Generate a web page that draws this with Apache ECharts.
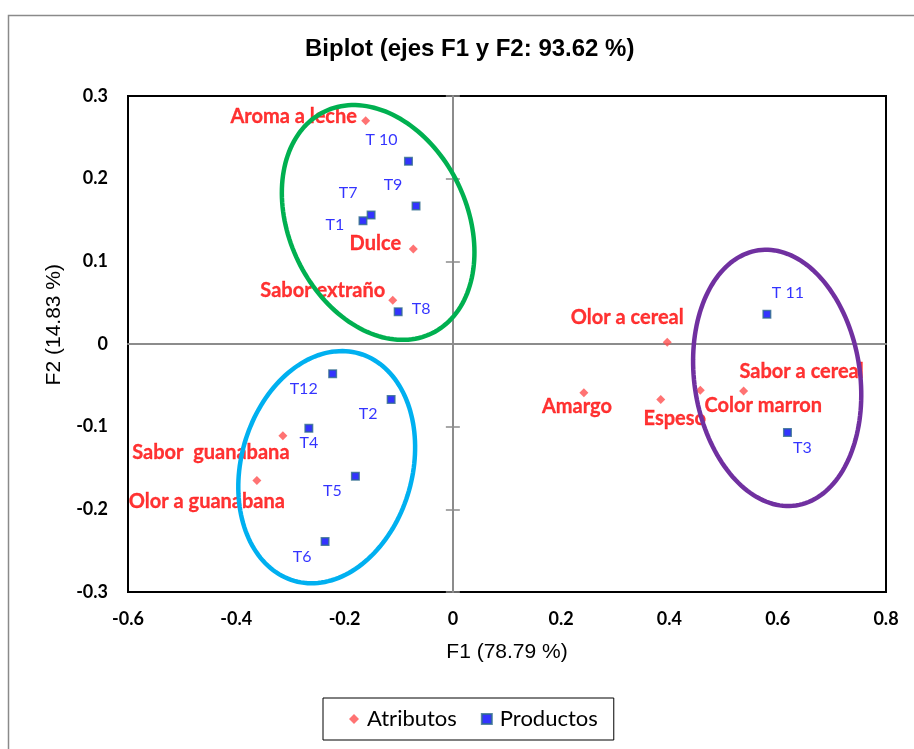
<!DOCTYPE html>
<html><head><meta charset="utf-8">
<script src="https://cdn.jsdelivr.net/npm/echarts@6/dist/echarts.min.js"></script>
<style>html,body{margin:0;padding:0;background:#fff}#c{width:914px;height:749px}</style>
</head><body><div id="c"></div>
<script>
// ---------- data ----------
const titleText = 'Biplot (ejes F1 y F2: 93.62 %)';
const xTitle = 'F1 (78.79 %)';
const yTitle = 'F2 (14.83 %)';
const xTicks = [-0.6, -0.4, -0.2, 0, 0.2, 0.4, 0.6, 0.8];
const yTicks = [-0.3, -0.2, -0.1, 0, 0.1, 0.2, 0.3];

const attrNames = ['Aroma a leche', 'Dulce', 'Sabor extraño', 'Olor a cereal', 'Amargo', 'Espeso', 'Color marron', 'Sabor a cereal', 'Sabor  guanabana', 'Olor a guanabana'];
const attrF1 = [-0.161, -0.073, -0.111, 0.396, 0.242, 0.384, 0.457, 0.537, -0.314, -0.362];
const attrF2 = [0.270, 0.115, 0.053, 0.002, -0.059, -0.067, -0.056, -0.057, -0.111, -0.165];

const prodNames = ['T 10', 'T9', 'T7', 'T1', 'T8', 'T 11', 'T3', 'T12', 'T2', 'T4', 'T5', 'T6'];
const prodF1 = [-0.082, -0.068, -0.151, -0.166, -0.101, 0.580, 0.618, -0.222, -0.114, -0.266, -0.180, -0.236];
const prodF2 = [0.221, 0.167, 0.156, 0.149, 0.039, 0.036, -0.107, -0.036, -0.067, -0.102, -0.160, -0.239];

// group ellipses: centre (F1, F2), half-extent along F1, half-extent along F2, tilt in degrees (+ = top leans left)
const groupCx = [-0.138, -0.233, 0.599];
const groupCy = [0.147, -0.149, -0.041];
const groupRx = [0.164, 0.158, 0.153];
const groupRy = [0.149, 0.143, 0.156];
const groupTilt = [25.9, -15.9, 8.4];

// ---------- styles ----------
const groupColors = ['#00B050', '#00B0F0', '#7030A0'];
const attrLabelOffset = {
  'Aroma a leche': [-72, -4], 'Dulce': [-38, -5], 'Sabor extraño': [-70, -10],
  'Olor a cereal': [-40, -25], 'Amargo': [-7, 14], 'Espeso': [14, 19],
  'Color marron': [63, 15], 'Sabor a cereal': [58, -20],
  'Sabor  guanabana': [-72, 17], 'Olor a guanabana': [-50, 21]
};
const prodLabelOffset = {
  'T 10': [-27, -21], 'T9': [-23, -21], 'T7': [-23, -22], 'T1': [-28, 4], 'T8': [23, -3],
  'T 11': [21, -21], 'T3': [15, 15], 'T12': [-29, 15], 'T2': [-23, 14], 'T4': [0, 15],
  'T5': [-23, 15], 'T6': [-23, 15]
};
const calibri = 'Lato, "Open Sans", sans-serif';
const arial = '"Liberation Sans", Arial, sans-serif';

const chart = echarts.init(document.getElementById('c'), null, {renderer: 'canvas'});

function renderEllipse(params, api) {
  const c = api.coord([api.value(0), api.value(1)]);
  const s = api.size([api.value(2), api.value(3)]);
  const t = api.value(4) * Math.PI / 180;
  const pts = [];
  const n = 160;
  for (let i = 0; i < n; i++) {
    const a = i / n * 2 * Math.PI;
    const u = s[0] * Math.cos(a), v = s[1] * Math.sin(a);
    pts.push([c[0] + u * Math.cos(t) + v * Math.sin(t), c[1] - u * Math.sin(t) + v * Math.cos(t)]);
  }
  return {type: 'polygon', shape: {points: pts}, style: {fill: 'none', stroke: groupColors[params.dataIndex], lineWidth: 4.5}};
}

const xMin = xTicks[0], xMax = xTicks[xTicks.length - 1], xInt = xTicks[1] - xTicks[0];
const yMin = yTicks[0], yMax = yTicks[yTicks.length - 1], yInt = yTicks[1] - yTicks[0];

const option = {
  backgroundColor: '#fff',
  animation: false,
  title: {
    text: titleText, left: 305, top: 37, padding: 0,
    textStyle: {fontFamily: arial, fontWeight: 'bold', fontSize: 24, color: '#000'}
  },
  legend: {
    data: ['Atributos', 'Productos'],
    left: 323, top: 698, orient: 'horizontal',
    padding: [10, 16, 10, 26], itemGap: 24, itemWidth: 10, itemHeight: 10,
    borderColor: '#000', borderWidth: 1,
    textStyle: {fontFamily: calibri, fontSize: 22, color: '#000', padding: [0, 0, 0, 3]}
  },
  graphic: [
    {type: 'rect', silent: true, z: -10, shape: {x: 8.5, y: 15.5, width: 1200, height: 1200},
     style: {fill: 'none', stroke: '#8a8a8a', lineWidth: 1.5}},
    {type: 'text', left: 44, top: 264, rotation: Math.PI / 2,
     style: {text: yTitle, font: '21px ' + arial, fill: '#000'}}
  ],
  grid: {left: 128, right: 28, top: 96, bottom: 157, show: true, borderColor: '#000', borderWidth: 2, outerBoundsMode: 'none'},
  xAxis: [
    {type: 'value', min: xMin, max: xMax, interval: xInt, position: 'bottom',
     axisLine: {show: false, onZero: false}, axisTick: {show: false}, splitLine: {show: false},
     axisLabel: {margin: 18, fontFamily: calibri, fontWeight: 'bold', fontSize: 18, color: '#000',
       formatter: v => (Math.round(v * 10) / 10).toString()},
     name: xTitle, nameLocation: 'middle', nameGap: 50,
     nameTextStyle: {fontFamily: arial, fontSize: 21, color: '#000'}},
    {type: 'value', min: xMin, max: xMax, interval: xInt, position: 'bottom',
     axisLine: {show: true, onZero: true, onZeroAxisIndex: 0, lineStyle: {color: '#8c8c8c', width: 2}},
     axisTick: {show: false}, axisLabel: {show: false}, splitLine: {show: false}}
  ],
  yAxis: [
    {type: 'value', min: yMin, max: yMax, interval: yInt, position: 'left',
     axisLine: {show: false, onZero: false}, axisTick: {show: false}, splitLine: {show: false},
     axisLabel: {margin: 20, fontFamily: calibri, fontWeight: 'bold', fontSize: 18, color: '#000',
       formatter: v => (Math.round(v * 10) / 10).toString()}},
    {type: 'value', min: yMin, max: yMax, interval: yInt, position: 'left',
     axisLine: {show: true, onZero: true, onZeroAxisIndex: 0, lineStyle: {color: '#8c8c8c', width: 2}},
     axisTick: {show: true, inside: false, length: 7, lineStyle: {color: '#8c8c8c', width: 1.5}},
     axisLabel: {show: false}, splitLine: {show: false}},
    {type: 'value', min: yMin, max: yMax, interval: yInt, position: 'left',
     axisLine: {show: false, onZero: true, onZeroAxisIndex: 0},
     axisTick: {show: true, inside: true, length: 7, lineStyle: {color: '#8c8c8c', width: 1.5}},
     axisLabel: {show: false}, splitLine: {show: false}}
  ],
  series: [
    {
      name: 'Atributos', type: 'scatter', xAxisIndex: 0, yAxisIndex: 0, z: 2,
      symbol: 'diamond', symbolSize: 9,
      itemStyle: {color: '#FF5050'},
      label: {show: true, position: ['50%', '50%'], align: 'center', verticalAlign: 'middle',
        formatter: '{b}', color: '#FF0000', textBorderColor: '#FF0000', textBorderWidth: 0.3,
        fontFamily: calibri, fontWeight: 'bold', fontSize: 20},
      data: attrNames.map((n, i) => ({name: n, value: [attrF1[i], attrF2[i]], label: {offset: attrLabelOffset[n]}}))
    },
    {
      name: 'Productos', type: 'scatter', xAxisIndex: 0, yAxisIndex: 0, z: 2,
      symbol: 'rect', symbolSize: 7.5,
      itemStyle: {color: '#0000FF', borderColor: '#2F6B8C', borderWidth: 1.5},
      label: {show: true, position: ['50%', '50%'], align: 'center', verticalAlign: 'middle',
        formatter: '{b}', color: '#0000FF', textBorderWidth: 0,
        fontFamily: calibri, fontSize: 16},
      data: prodNames.map((n, i) => ({name: n, value: [prodF1[i], prodF2[i]], label: {offset: prodLabelOffset[n]}}))
    },
    {
      name: 'Grupos', type: 'custom', xAxisIndex: 0, yAxisIndex: 0, z: 5, silent: true,
      renderItem: renderEllipse,
      data: groupCx.map((x, i) => [x, groupCy[i], groupRx[i], groupRy[i], groupTilt[i]])
    }
  ]
};
chart.setOption(option);
</script>
</body></html>
